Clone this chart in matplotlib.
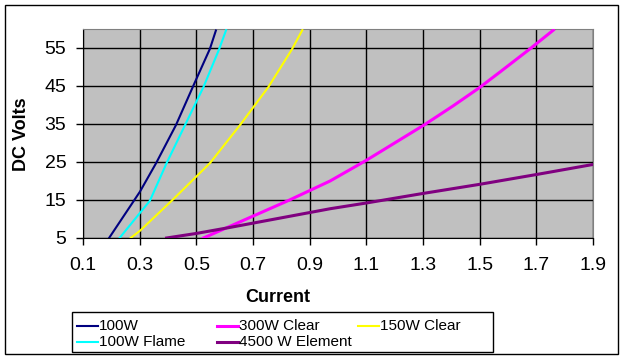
import matplotlib

matplotlib.use("Agg")
import matplotlib.pyplot as plt
from matplotlib.lines import Line2D
from matplotlib.patches import Rectangle

plt.rcParams["font.family"] = ["Liberation Sans", "DejaVu Sans"]

# current (A) vs DC volts
i_100w = [0.192, 0.301, 0.358, 0.428, 0.495, 0.548, 0.569]
v_100w = [5, 17.2, 24.7, 34.7, 46.0, 54.8, 59.6]

i_100w_flame = [0.229, 0.336, 0.395, 0.460, 0.525, 0.580, 0.605]
v_100w_flame = [5, 14.8, 24.7, 34.7, 44.7, 54.6, 59.7]

i_150w_clear = [0.268, 0.301, 0.413, 0.548, 0.654, 0.754, 0.837, 0.874]
v_150w_clear = [5, 6.9, 14.8, 24.7, 34.7, 44.7, 54.6, 59.7]

i_300w_clear = [0.525, 0.829, 0.972, 1.099, 1.305, 1.407, 1.498, 1.572, 1.678, 1.760]
v_300w_clear = [5, 15, 20.0, 25.4, 34.8, 39.8, 44.5, 48.7, 54.8, 59.7]

i_4500w = [0.395, 0.50, 0.62, 0.972, 1.099, 1.298, 1.498, 1.70, 1.896]
v_4500w = [5, 6.2, 7.8, 12.7, 14.2, 16.7, 19.1, 21.7, 24.3]

xticks = [0.1, 0.3, 0.5, 0.7, 0.9, 1.1, 1.3, 1.5, 1.7, 1.9]
yticks = [5, 15, 25, 35, 45, 55]

W, H = 627, 362
fig = plt.figure(figsize=(W / 100, H / 100), dpi=100)
fig.patch.set_facecolor("white")

# outer chart frame
fig.add_artist(Rectangle((5 / W, 1 - 354 / H), 613 / W, 349 / H,
                         transform=fig.transFigure, fill=False,
                         edgecolor="black", lw=1.0))

ax = fig.add_axes([83 / W, 1 - 238 / H, 510 / W, 209 / H])
ax.set_facecolor("#C0C0C0")

series = [
    ("100W", i_100w, v_100w, "#000080", 1.5),
    ("100W Flame", i_100w_flame, v_100w_flame, "#00FFFF", 1.5),
    ("150W Clear", i_150w_clear, v_150w_clear, "#FFFF00", 1.5),
    ("300W Clear", i_300w_clear, v_300w_clear, "#FF00FF", 2.2),
    ("4500 W Element", i_4500w, v_4500w, "#800080", 2.2),
]
for name, x, y, c, lw in series:
    ax.plot(x, y, color=c, lw=lw, zorder=3, solid_joinstyle="round")

ax.set_xlim(0.1, 1.9)
ax.set_ylim(5, 60)
ax.set_xticks(xticks)
ax.set_xticklabels([f"{v:.1f}" for v in xticks])
ax.set_yticks(yticks)
ax.grid(True, color="black", lw=1.0)
ax.set_axisbelow(True)
ax.tick_params(axis="both", labelsize=14, length=5, width=1.0, color="black")
ax.tick_params(axis="x", pad=9)
ax.tick_params(axis="y", pad=7)
for s in ("top", "right"):
    ax.spines[s].set_color("#808080")
for s in ("left", "bottom"):
    ax.spines[s].set_color("black")

fig.text(21.5 / W, 1 - 134 / H, "DC Volts", rotation=90, ha="center",
         va="center", fontsize=13, fontweight="bold")
fig.text(278 / W, 1 - 298 / H, "Current", ha="center", va="center",
         fontsize=13, fontweight="bold")

# legend laid out like the Excel one (row-wise, fixed column positions)
fig.add_artist(Rectangle((72 / W, 1 - 352 / H), 421 / W, 40 / H,
                         transform=fig.transFigure, fill=False,
                         edgecolor="black", lw=1.0))
legend_pos = {
    "100W": (77, 325.5),
    "300W Clear": (217, 325.5),
    "150W Clear": (358, 325.5),
    "100W Flame": (77, 341.5),
    "4500 W Element": (217, 341.5),
}
for name, x, y, c, lw in series:
    px, py = legend_pos[name]
    fig.add_artist(Line2D([px / W, (px + 21) / W], [1 - py / H, 1 - py / H],
                          transform=fig.transFigure, color=c, lw=lw))
    fig.text((px + 22) / W, 1 - py / H, name, ha="left", va="center",
             fontsize=11)

fig.savefig("out.png", dpi=100, facecolor=fig.get_facecolor())
